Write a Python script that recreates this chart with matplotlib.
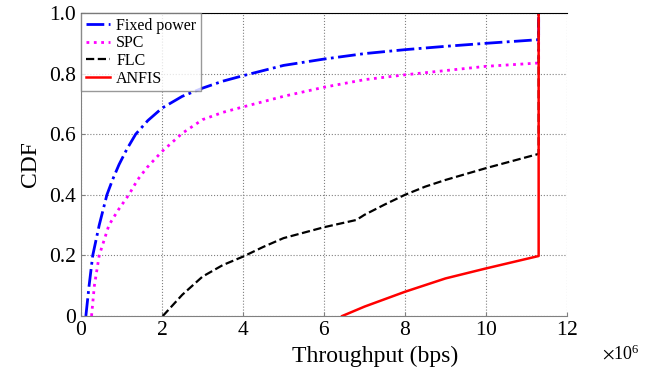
import numpy as np
import matplotlib.pyplot as plt
from matplotlib.ticker import ScalarFormatter

plt.rcParams['font.family'] = ['Liberation Serif', 'DejaVu Serif']
plt.rcParams['mathtext.fontset'] = 'stix'

# Throughput values in Mbps (scaled to bps when plotting), CDF values
fixed_x = [0.12, 0.2, 0.29, 0.45, 0.64, 0.78, 0.94, 1.13, 1.35, 1.65, 2.0, 2.5, 3.0, 3.5, 4.0, 5.0, 6.0, 7.0, 8.0, 9.0, 10.0, 11.3, 11.3]
fixed_y = [0.0, 0.1, 0.2, 0.3, 0.4, 0.45, 0.5, 0.55, 0.6, 0.645, 0.686, 0.725, 0.752, 0.775, 0.793, 0.827, 0.848, 0.866, 0.879, 0.89, 0.90, 0.912, 1.0]

spc_x = [0.26, 0.33, 0.45, 0.69, 0.92, 1.18, 1.4, 1.63, 2.0, 2.5, 3.0, 3.5, 4.0, 5.0, 6.0, 7.0, 8.0, 9.0, 10.0, 11.3, 11.3]
spc_y = [0.0, 0.1, 0.2, 0.3, 0.35, 0.4, 0.45, 0.49, 0.543, 0.603, 0.648, 0.672, 0.69, 0.725, 0.755, 0.78, 0.796, 0.81, 0.824, 0.835, 1.0]

flc_x = [2.02, 2.5, 3.0, 3.5, 4.0, 4.5, 5.0, 6.0, 6.8, 7.0, 7.5, 8.0, 8.5, 9.0, 10.0, 11.3, 11.3]
flc_y = [0.0, 0.07, 0.13, 0.168, 0.196, 0.228, 0.257, 0.293, 0.317, 0.334, 0.368, 0.40, 0.427, 0.449, 0.488, 0.535, 1.0]

anfis_x = [6.45, 7.0, 8.0, 9.0, 10.0, 11.3, 11.3]
anfis_y = [0.0, 0.031, 0.08, 0.124, 0.157, 0.198, 1.0]

fig = plt.figure(figsize=(6.56, 3.74), dpi=100)
ax = fig.add_axes([81 / 656, 1 - 316 / 374, (567 - 81) / 656, (316 - 13) / 374])

ax.plot(np.array(fixed_x) * 1e6, fixed_y, color='blue', ls='-.', lw=2, label='Fixed power')
ax.plot(np.array(spc_x) * 1e6, spc_y, color='magenta', ls=':', lw=2, label='SPC')
ax.plot(np.array(flc_x) * 1e6, flc_y, color='black', ls='--', lw=1.6, label='FLC')
ax.plot(np.array(anfis_x) * 1e6, anfis_y, color='red', ls='-', lw=1.8, label='ANFIS')

ax.set_xlim(0, 12e6)
ax.set_ylim(0, 1)
ax.set_xticks(np.arange(0, 13, 2) * 1e6)
ax.set_yticks([0, 0.2, 0.4, 0.6, 0.8, 1.0])
ax.set_yticklabels(['0', '0.2', '0.4', '0.6', '0.8', '1.0'])

fmt = ScalarFormatter(useMathText=True)
fmt.set_powerlimits((6, 6))
ax.xaxis.set_major_formatter(fmt)
off = ax.xaxis.get_offset_text()
off.set_fontsize(13)
off.set_x(1.15)
off.set_horizontalalignment('right')

ax.grid(True, ls=':', color='gray', lw=0.8)
ax.tick_params(direction='in', labelsize=15.5, length=3, color='gray')
ax.spines['right'].set_visible(False)
for s in ['left', 'bottom']:
    ax.spines[s].set_color('gray')
ax.spines['top'].set_color('black')

ax.set_xlabel('Throughput (bps)', fontsize=17, labelpad=3)
ax.xaxis.set_label_coords(0.605, -0.1)
ax.xaxis.label.set_verticalalignment('top')
ax.set_ylabel('CDF', fontsize=17, labelpad=6)

leg = ax.legend(loc='upper left', fontsize=11.5, fancybox=False, edgecolor='gray',
                borderaxespad=0.0, handlelength=1.5, labelspacing=0.1, borderpad=0.3,
                handletextpad=0.4)
leg.get_frame().set_linewidth(1.0)

fig.savefig('out.png', dpi=100)
